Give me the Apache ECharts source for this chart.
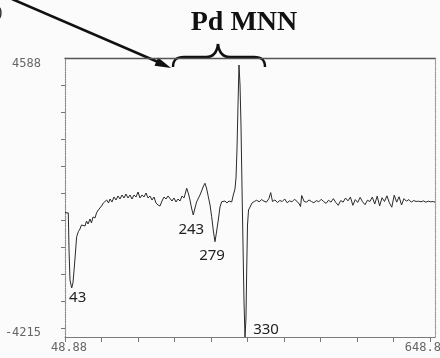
<!DOCTYPE html>
<html>
<head>
<meta charset="utf-8">
<script src="https://cdn.jsdelivr.net/npm/echarts@6/dist/echarts.min.js"></script>
<style>
  html, body { margin: 0; padding: 0; background: #fbfbfb; }
  #chart { width: 440px; height: 358px; }
</style>
</head>
<body>
<div id="chart"></div>
<script>
// spectre Auger, energie cinetique (eV) / signal derive
var lowE = [40, 45.4, 46.6, 48.2, 51, 53.1, 55.6, 58.1, 59.2, 61.9, 64.6, 67.1, 70.1, 72.9, 75.3, 77.8, 81.1, 83.5, 86, 89.3,
  91.8, 94.7, 97.5, 100, 103, 105.7, 108.5, 111.5, 114, 117.2, 120.5, 123.8, 127.1, 130.4, 133.7, 137, 140.2, 143.5, 146.8, 150.1,
  153.4, 156.7, 160, 163.2, 166.5, 169.8, 173.1, 176.4, 179.7, 183, 186.2, 189.5, 192.8, 196.1, 199.4, 202.7, 206, 209.3, 212.5, 215.8,
  219.1, 222.4, 225.7, 229, 232.3, 235.6];
var lowV = [-290, -300, -1470, -2416, -2669, -2511, -1943, -1312, -1050, -893, -807, -681, -618, -713, -555, -650, -492, -618, -429, -460,
  -302, -208, -240, -82, 13, -50, 108, 13, 139, 45, 202, 108, 234, 139, 265, 171, 297, 171, 265, 139,
  265, 202, 360, 171, 265, 202, 328, 171, 234, 108, 202, 13, -50, -82, 76, 202, 139, 234, 171, 76,
  171, 45, 139, 76, 234, 171];

// zone Pd MNN
var pdE = [240, 243, 245.4, 247.9, 250.8, 253.6, 256.4, 259.4, 261.8, 265.1, 267.6, 270, 272.5, 275.5, 278.3, 281, 284, 286.5, 289, 291.9,
  294.7, 297.5, 300.4, 302.9, 306.2, 309.5, 313.9, 316.6, 319.3, 321, 322.6, 324.3, 325.9, 327.6, 329.2, 330.8, 332.5, 334.1, 335.8, 337.4,
  338.6, 339.9, 341.6, 344.1, 347.3];
var pdV = [477, 297, 108, -145, -366, -145, 54, 171, 265, 423, 549, 635, 486, 212, -50, -419, -902, -1208, -902, -524,
  -113, 54, 13, 76, 13, 76, 45, 265, 455, 802, 1685, 3105, 4367, 3736, 2474, 581, -1312, -3048, -4215, -3615,
  -2101, -681, -208, -113, 13];

var highE = [351, 355, 359, 363, 367, 371, 375, 378, 381, 385, 389, 393, 397, 401, 405, 409, 413, 417, 421, 425,
  427, 429, 433, 437, 441, 445, 449, 453, 457, 461, 465, 469, 473, 477, 481, 485, 489, 493, 497, 501,
  505, 509, 513, 517, 521, 525, 529, 533, 537, 541, 545, 549, 553, 557, 561, 565, 569, 573, 577, 581,
  585, 589, 593, 597, 601, 605, 609, 613, 617, 621, 625, 629, 633, 637, 641, 645, 648];
var highV = [60, 100, 50, 120, 70, 40, 150, 340, 60, 110, 30, 90, 60, 140, 20, 80, 50, 130, 70, -20,
  -100, 250, 60, 40, 110, 60, 20, 90, 50, 130, 60, 0, 100, 40, 150, 30, -60, 90, 40, 170,
  80, 200, -60, 120, 30, 190, 50, -40, 100, 60, 200, -20, 230, -80, 180, 60, 240, 20, -120, 260,
  40, 210, -50, 150, 70, 120, 40, 90, 60, 70, 50, 80, 40, 70, 50, 60, 40];

// pics annotes a la main
var peakNames = ['43', '243', '279', '330'];
var peakE = [51, 250.8, 286.5, 335.8];
var peakV = [-2669, -366, -1208, -4215];

var xTickValues = [40, 100, 160, 220, 280, 340, 400, 460, 520, 580, 640];
var xLabelValues = [40, 648];
var xLabels = ['48.88', '648.88'];
var yTickValues = [3736, 2884, 2032, 1180, 328, -524, -1376, -2228, -3080, -3932];
var yLabelValues = [-4215, 4588];
var yLabels = ['-4215', '4588'];

var spectrum = [];
[[lowE, lowV], [pdE, pdV], [highE, highV]].forEach(function (seg) {
  for (var i = 0; i < seg[0].length; i++) spectrum.push([seg[0][i], seg[1][i]]);
});

var labelOffsets = [[6, 10], [-2, 15], [-3, 14], [21, -7]];
var marks = peakNames.map(function (n, i) {
  return {
    name: n, coord: [peakE[i], peakV[i]],
    label: { offset: labelOffsets[i] }
  };
});

var dotFont = '"DejaVu Sans Mono", monospace';
var ink = { stroke: '#111', lineWidth: 2.5, fill: null };

var myChart = echarts.init(document.getElementById('chart'));
var option = {
  animation: false,
  backgroundColor: '#fbfbfb',
  grid: { left: 65, top: 58, width: 370, height: 279, outerBoundsMode: 'none', containLabel: false },
  xAxis: [{
    type: 'value', min: 40, max: 648, position: 'bottom',
    axisLine: { onZero: false, lineStyle: { color: '#7a7a7a', width: 1 } },
    axisTick: { show: true, inside: false, length: 5, customValues: xTickValues, lineStyle: { color: '#777' } },
    axisLabel: {
      customValues: xLabelValues, margin: 5, color: '#666', fontFamily: dotFont, fontSize: 12,
      formatter: function (v) {
        var i = xLabelValues.indexOf(v);
        return i === 0 ? '{l|' + xLabels[0] + '}' : '{r|' + xLabels[1] + '}';
      },
      rich: {
        l: { padding: [0, 0, 0, 8], fontFamily: dotFont, fontSize: 12, color: '#666' },
        r: { padding: [0, 17, 0, 0], fontFamily: dotFont, fontSize: 12, color: '#666' }
      }
    },
    splitLine: { show: false },
    name: 'ENERGIE CINETIQUE', nameLocation: 'middle', nameGap: 11,
    nameTextStyle: { color: '#555', fontFamily: dotFont, fontSize: 11, padding: [0, 16, 0, 0] }
  }, {
    type: 'value', min: 40, max: 648, position: 'top',
    axisLine: { onZero: false, lineStyle: { color: '#555', width: 1.3 } },
    axisTick: { show: false }, axisLabel: { show: false }, splitLine: { show: false }
  }],
  yAxis: [{
    type: 'value', min: -4215, max: 4588,
    axisLine: { show: true, onZero: false, lineStyle: { color: '#8a8a8a', type: 'dotted', width: 1.2 } },
    axisTick: { show: true, inside: false, length: 4, customValues: yTickValues, lineStyle: { color: '#777' } },
    axisLabel: {
      customValues: yLabelValues, margin: 24, color: '#666', fontFamily: dotFont, fontSize: 12,
      formatter: function (v) {
        var i = yLabelValues.indexOf(v);
        return i === 0 ? '{b|' + yLabels[0] + '}' : '{t|' + yLabels[1] + '}';
      },
      rich: {
        t: { padding: [12, 0, 0, 0], fontFamily: dotFont, fontSize: 12, color: '#666' },
        b: { padding: [0, 0, 8, 0], fontFamily: dotFont, fontSize: 12, color: '#666' }
      }
    },
    splitLine: { show: false }
  }, {
    type: 'value', min: -4215, max: 4588, position: 'right',
    axisLine: { show: true, onZero: false, lineStyle: { color: '#999', type: 'dotted', width: 1.2 } },
    axisTick: { show: false }, axisLabel: { show: false }, splitLine: { show: false }
  }],
  series: [{
    type: 'line',
    data: spectrum,
    showSymbol: false,
    lineStyle: { color: '#2a2a2a', width: 1 },
    markPoint: {
      symbol: 'circle', symbolSize: 1,
      itemStyle: { color: 'rgba(0,0,0,0)' },
      label: {
        show: true, position: 'inside', formatter: '{b}',
        color: '#222', fontFamily: '"Noto Sans", sans-serif', fontSize: 15
      },
      data: marks
    }
  }],
  graphic: [
    { type: 'text', x: 244, y: 23, style: { text: 'Pd MNN', textAlign: 'center', textVerticalAlign: 'middle',
      font: 'bold 28px "Liberation Serif", serif', fill: '#111' } },
    // accolade
    { type: 'bezierCurve', shape: { x1: 173, y1: 67, cpx1: 173, cpy1: 60, cpx2: 176, cpy2: 57, x2: 184, y2: 57 }, style: ink },
    { type: 'line', shape: { x1: 184, y1: 57, x2: 206, y2: 57 }, style: ink },
    { type: 'bezierCurve', shape: { x1: 206, y1: 57, cpx1: 213, cpy1: 57, cpx2: 217, cpy2: 53, x2: 218, y2: 44 }, style: ink },
    { type: 'bezierCurve', shape: { x1: 218, y1: 44, cpx1: 219, cpy1: 53, cpx2: 223, cpy2: 57, x2: 230, y2: 57 }, style: ink },
    { type: 'line', shape: { x1: 230, y1: 57, x2: 254, y2: 57 }, style: ink },
    { type: 'bezierCurve', shape: { x1: 254, y1: 57, cpx1: 262, cpy1: 57, cpx2: 265, cpy2: 60, x2: 265, y2: 67 }, style: ink },
    // fleche
    { type: 'line', shape: { x1: 12, y1: -1, x2: 158, y2: 62 }, style: ink },
    { type: 'polygon', shape: { points: [[171, 68], [154.5, 65.7], [158.1, 57.5]] }, style: { fill: '#111' } },
    { type: 'text', x: -3, y: 5, style: { text: ')', font: '16px "Liberation Serif", serif', fill: '#333' } }
  ]
};
myChart.setOption(option);
</script>
</body>
</html>
